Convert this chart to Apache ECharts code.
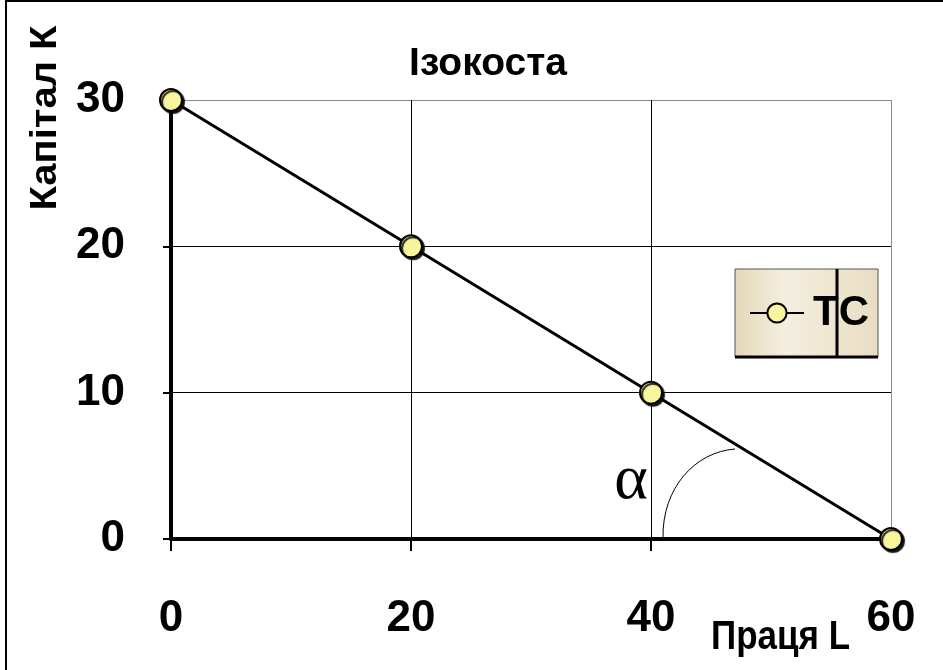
<!DOCTYPE html>
<html><head><meta charset="utf-8">
<script src="https://cdn.jsdelivr.net/npm/echarts@6/dist/echarts.min.js"></script>
<style>html,body{margin:0;padding:0;background:#fff}#c{width:943px;height:670px}</style>
</head><body><div id="c"></div>
<script>
const labour = [0, 20, 40, 60];
const capital = [30, 20, 10, 0];
const xTicks = [0, 20, 40, 60];
const yTicks = [0, 10, 20, 30];
const seriesName = 'TC';
const titleText = 'Ізокоста';
const xName = 'Праця L';
const yName = 'Капітал К';

const FONT = "'Liberation Sans', Arial, sans-serif";
const chart = echarts.init(document.getElementById('c'));
const points = labour.map((v, i) => [v, capital[i]]);

chart.setOption({
  backgroundColor: '#fff',
  animation: false,
  title: {
    text: titleText, left: 483, top: 40, textAlign: 'center',
    textStyle: { fontFamily: FONT, fontWeight: 'bold', fontSize: 39, color: '#000' }
  },
  grid: { left: 171, right: 52, top: 100, bottom: 131 },
  xAxis: {
    type: 'value', min: 0, max: 60, interval: 20,
    axisLine: { show: true, onZero: false, lineStyle: { color: '#000', width: 4 } },
    axisTick: { show: true, inside: false, length: 12, lineStyle: { color: '#000', width: 2 } },
    axisLabel: { margin: 58, fontFamily: FONT, fontWeight: 'bold', fontSize: 44, color: '#000',
      formatter: v => xTicks.includes(v) ? String(v) : '' },
    splitLine: { show: true, lineStyle: { color: ['#000', '#000', '#000', '#8a8a8a'], width: 1 } }
  },
  yAxis: {
    type: 'value', min: 0, max: 30, interval: 10,
    axisLine: { show: true, onZero: false, lineStyle: { color: '#000', width: 4 } },
    axisTick: { show: true, inside: false, length: 8, lineStyle: { color: '#000', width: 2 } },
    axisLabel: { margin: 46, fontFamily: FONT, fontWeight: 'bold', fontSize: 44, color: '#000',
      formatter: v => yTicks.includes(v) ? String(v) : '' },
    splitLine: { show: true, lineStyle: { color: ['#000', '#000', '#000', '#8a8a8a'], width: 1 } }
  },
  legend: {
    data: [seriesName], left: 735, top: 270, z: 5,
    padding: [22, 12, 22, 14],
    itemWidth: 54, itemHeight: 24, itemGap: 0,
    textStyle: { fontFamily: FONT, fontWeight: 'bold', fontSize: 42, color: '#000', padding: [0, 0, 0, 4] }
  },
  series: [{
    name: seriesName, type: 'line', data: points,
    symbol: 'circle', symbolSize: 22, z: 3,
    lineStyle: { color: '#000', width: 3 },
    itemStyle: { color: '#f9f59c', borderColor: '#000', borderWidth: 2,
      shadowColor: 'rgba(0,0,0,0.85)', shadowOffsetX: 2, shadowOffsetY: 2, shadowBlur: 1 }
  }],
  graphic: [
    { type: 'rect', z: 0, silent: true, shape: { x: 6, y: 1, width: 1000, height: 1000 },
      style: { fill: null, stroke: '#000', lineWidth: 2 } },
    { type: 'rect', z: 4, silent: true, shape: { x: 735, y: 269, width: 143, height: 88 },
      style: { stroke: '#555', lineWidth: 1,
        fill: { type: 'linear', x: 0, y: 0, x2: 1, y2: 0, colorStops: [
          { offset: 0, color: '#e4d8b8' }, { offset: 0.35, color: '#f4eee0' },
          { offset: 0.7, color: '#efe6d0' }, { offset: 1, color: '#e8ddc1' }] } } },
    { type: 'line', z: 6, silent: true, shape: { x1: 837, y1: 269, x2: 837, y2: 357 },
      style: { stroke: '#000', lineWidth: 3 } },
    { type: 'line', z: 6, silent: true, shape: { x1: 735, y1: 357, x2: 878, y2: 357 },
      style: { stroke: '#000', lineWidth: 3 } },
    { type: 'text', z: 6, silent: true, x: 46, y: 118, rotation: Math.PI / 2, scaleX: 1.08,
      style: { text: yName, fontFamily: FONT, fontWeight: 'bold', fontSize: 37, fill: '#000',
        textAlign: 'center', textVerticalAlign: 'middle', align: 'center', verticalAlign: 'middle' } },
    { type: 'text', z: 6, silent: true, x: 711, y: 638, scaleY: 1.15,
      style: { text: xName, fontFamily: FONT, fontWeight: 'bold', fontSize: 35, fill: '#000',
        textAlign: 'left', textVerticalAlign: 'middle', align: 'left', verticalAlign: 'middle' } },
    { type: 'text', z: 6, silent: true, x: 631, y: 481,
      style: { text: 'α', fontFamily: "'Liberation Serif', 'DejaVu Serif', serif", fontSize: 64, fill: '#000',
        align: 'center', verticalAlign: 'middle', textAlign: 'center', textVerticalAlign: 'middle' } },
    { type: 'bezierCurve', z: 6, silent: true,
      shape: { x1: 663, y1: 538, cpx1: 662, cpy1: 488, cpx2: 695, cpy2: 452, x2: 735, y2: 449 },
      style: { stroke: '#000', lineWidth: 1, fill: null } }
  ]
});
</script></body></html>
